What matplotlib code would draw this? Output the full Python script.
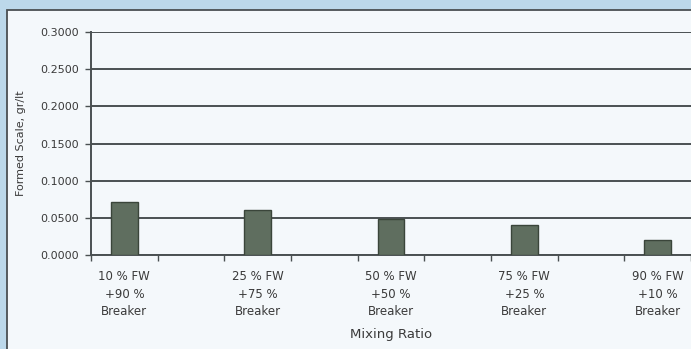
import matplotlib
matplotlib.use("Agg")
import matplotlib.pyplot as plt
from matplotlib.patches import Rectangle
import numpy as np

plt.rcParams['font.family'] = ['DejaVu Sans']

categories = ["10 % FW\n+90 %\nBreaker",
              "25 % FW\n+75 %\nBreaker",
              "50 % FW\n+50 %\nBreaker",
              "75 % FW\n+25 %\nBreaker",
              "90 % FW\n+10 %\nBreaker"]
formed_scale = [0.071, 0.060, 0.049, 0.040, 0.020]
y_ticks = [0.0, 0.05, 0.10, 0.15, 0.20, 0.25, 0.30]

W, H = 691, 349
fig = plt.figure(figsize=(W / 100, H / 100), dpi=100)
fig.patch.set_facecolor('#bcd8ea')

# chart area panel with its dark border, kept behind the axes
panel = Rectangle((7 / W, -0.01), 1.0, 1.01 - 10 / H, transform=fig.transFigure,
                  facecolor='#f4f8fb', edgecolor='#4a4f52', linewidth=1.3,
                  zorder=-10)
fig.patches.append(panel)

ax = fig.add_axes([91 / W, 94 / H, 1 - 91 / W, 223 / H])
ax.set_facecolor('#f4f8fb')

x = np.arange(len(categories))
ax.bar(x, formed_scale, width=0.2, color='#5f6e5f', edgecolor='#3a453a',
       linewidth=1.0, zorder=3)

ax.set_xlim(-0.25, 4.25)
ax.set_ylim(0, 0.3)
ax.set_yticks(y_ticks)
ax.set_yticklabels([f"{v:.4f}" for v in y_ticks], fontsize=8, color='#3a3a3a')
ax.yaxis.grid(True, color='#4a5052', linewidth=1.4, zorder=1)
ax.set_axisbelow(True)

ax.set_xticks(x)
ax.set_xticklabels(categories, fontsize=8.5, color='#3a3a3a', linespacing=1.45)
ax.set_xticks(np.arange(-0.25, 4.3, 0.5), minor=True)
ax.tick_params(axis='x', which='major', length=0, pad=11)
ax.tick_params(axis='x', which='minor', length=4, width=1, color='#4a5052',
               direction='out')
ax.tick_params(axis='y', length=4, width=1, color='#4a5052', direction='out',
               pad=5)

for side in ('top', 'right'):
    ax.spines[side].set_visible(False)
for side in ('left', 'bottom'):
    ax.spines[side].set_color('#4a5052')
    ax.spines[side].set_linewidth(1.4)

ax.set_xlabel("Mixing Ratio", fontsize=9.5, color='#3a3a3a', labelpad=7)
ax.set_ylabel("Formed Scale, gr/lt", fontsize=8, color='#3a3a3a', labelpad=10)

fig.savefig("out.png", dpi=100, facecolor=fig.get_facecolor())
